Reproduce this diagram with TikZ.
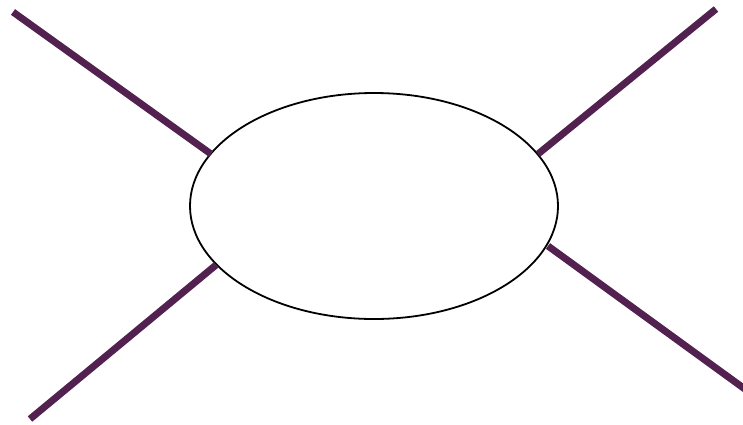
\documentclass[tikz,border=0pt]{standalone}
\usetikzlibrary{shapes.geometric}
\definecolor{leg}{HTML}{53214F}
\begin{document}
\begin{tikzpicture}[x=1pt,y=-1pt,
  legline/.style={draw=leg,line width=7pt,line cap=butt},
  blob/.style={ellipse,draw=black,line width=1.8pt,minimum width=368pt,minimum height=226pt,inner sep=0pt}]
\useasboundingbox (0,0) rectangle (743,424);
\node[blob] (b) at (374,206) {};
\coordinate (tl1) at (13,12);
\coordinate (tl2) at (211,154);
\coordinate (tr1) at (716,9);
\coordinate (tr2) at (538,154);
\coordinate (br1) at (760,400);
\coordinate (br2) at (548,246);
\coordinate (bl1) at (30,419);
\coordinate (bl2) at (216,265);
\draw[legline] (tl1) -- (tl2);
\draw[legline] (tr1) -- (tr2);
\draw[legline] (br2) -- (br1);
\draw[legline] (bl1) -- (bl2);
\end{tikzpicture}
\end{document}
